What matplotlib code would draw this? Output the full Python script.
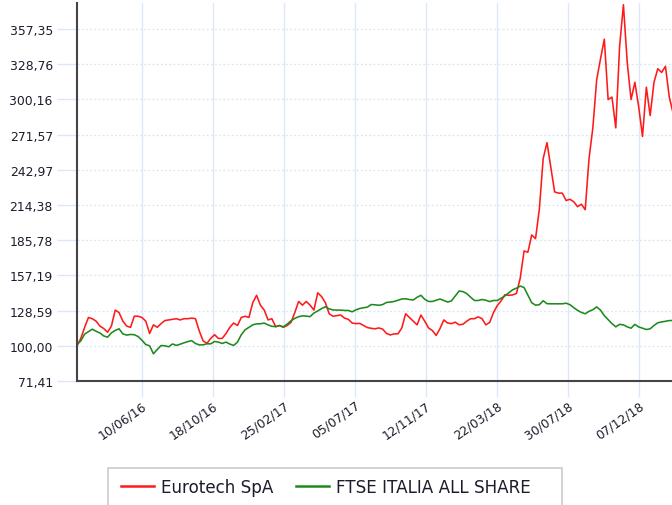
import matplotlib
matplotlib.use("Agg")
import matplotlib.pyplot as plt
from matplotlib.patches import Rectangle
import pandas as pd

start_date = "2016-02-12"
end_date = "2019-02-06"

eurotech = [
    100, 106, 115, 123, 122, 120, 116, 114, 111, 116,
    129, 127, 120, 116, 115, 124, 124, 123, 120, 110,
    117, 115, 118, 120.5, 121, 121.5, 122, 121, 122, 122,
    122.5, 122, 112, 104, 102, 106, 109, 106, 106, 110,
    115, 118.5, 116.5, 123, 124, 123, 135, 141, 133, 129,
    121, 122, 115.5, 116.5, 115, 116.5, 119, 127, 136, 133,
    136, 133, 129, 143, 140, 135, 126, 124, 124.5, 125,
    122.5, 121.5, 118.5, 118, 118.2, 116.5, 114.8, 114.2, 113.8, 114.5,
    113.5, 110, 108.8, 109.7, 109.7, 114.5, 126, 123, 120, 117,
    125, 120, 114.5, 112.4, 108.4, 114, 121, 118.5, 118, 119.2,
    117, 117.5, 120, 122, 122, 123.5, 122, 117, 119, 127,
    132.7, 136.5, 141.5, 141, 141.3, 142.5, 155, 177, 176, 190,
    187, 211, 252, 265, 245, 225, 224, 224, 218, 219,
    217, 213, 215, 210.5, 252, 277, 316, 333, 349, 300,
    302, 277, 343, 377, 330, 300, 314, 294, 270, 310,
    287, 314, 325, 322, 327, 302, 289,
]

ftse = [
    101, 104, 109.5, 111.5, 113.5, 111.8, 110.4, 108, 107, 110.5,
    112.5, 113.8, 109.7, 108.7, 109.2, 109, 107.5, 104.5, 101, 100,
    93.5, 97, 100.2, 100, 99.2, 101.5, 100.3, 101.3, 102.4, 103.4,
    104.2, 101.9, 100.7, 100.8, 101.6, 101.6, 103.5, 103, 101.9, 103,
    101.4, 100.3, 103, 109, 113, 115, 117, 117.8, 117.9, 118.4,
    117, 115.8, 115.6, 116.4, 115.4, 117.6, 120.3, 122.3, 123.6, 124.3,
    124.1, 123.7, 126.6, 128.3, 130.2, 131.7, 130, 129.1, 129, 129,
    128.7, 128.7, 127.6, 129.2, 130.3, 130.9, 131.4, 133.5, 133.3, 132.9,
    133.5, 135.2, 135.5, 136, 137, 138, 138.2, 137.6, 137.2, 139.4,
    141, 137.8, 136, 136, 137, 138, 136.8, 135.5, 136.5, 140.5,
    144.5, 144, 142.4, 139.5, 136.8, 136.8, 137.6, 137, 135.9, 136.8,
    136.8, 138.6, 140.6, 143, 145.5, 146.8, 148.5, 147.3, 141.2, 135,
    133, 133.4, 136.6, 134.2, 134.1, 134.1, 134.1, 134.1, 134.6, 133.4,
    131, 128.8, 127.1, 126, 128, 129.3, 131.6, 129, 124.5, 121.3,
    118, 115.4, 117.4, 117, 115.4, 114.3, 117.4, 115.3, 114.3, 113.2,
    113.8, 116.5, 118.7, 119.4, 119.9, 120.5, 120.5,
]

y_ticks = [71.41, 100.00, 128.59, 157.19, 185.78, 214.38, 242.97,
           271.57, 300.16, 328.76, 357.35]
x_tick_labels = ["10/06/16", "18/10/16", "25/02/17", "05/07/17",
                 "12/11/17", "22/03/18", "30/07/18", "07/12/18"]
series_names = ["Eurotech SpA", "FTSE ITALIA ALL SHARE"]

dates = pd.date_range(start_date, periods=len(eurotech), freq="7D")
x_ticks = pd.to_datetime(x_tick_labels, format="%d/%m/%y")

W, H = 672, 506
fig = plt.figure(figsize=(W / 100, H / 100), dpi=100)
ax = fig.add_axes([77 / W, 1 - 382 / H, 1 - 77 / W, (382 - 4) / H])

grid_c = "#dde8f6"
ax.plot(dates, eurotech, color="#ff1a1a", lw=1.15, label=series_names[0], zorder=3)
ax.plot(dates, ftse, color="#1e8a1e", lw=1.15, label=series_names[1], zorder=3)

ax.set_xlim(pd.Timestamp(start_date), pd.Timestamp(end_date))
ax.set_ylim(71.41, 378.4)

ax.set_yticks(y_ticks)
ax.set_yticklabels([f"{v:.2f}".replace(".", ",") for v in y_ticks])
ax.set_xticks(x_ticks)
ax.set_xticklabels(x_tick_labels)

ax.grid(axis="y", color=grid_c, linestyle=(0, (1.5, 1.5)), lw=1.0, zorder=0)
ax.grid(axis="x", color=grid_c, linestyle="-", lw=1.0, zorder=0)

ax.tick_params(axis="y", length=14.4, width=1.0, color=grid_c, pad=3,
               labelsize=8.9, labelcolor="#1c1c2c")
ax.tick_params(axis="x", length=11.5, width=1.0, color=grid_c, pad=1,
               labelsize=8.9, labelcolor="#1c1c2c")
for lbl in ax.get_xticklabels():
    lbl.set_rotation(35)
    lbl.set_ha("right")
    lbl.set_va("top")
    lbl.set_rotation_mode("anchor")

for s in ["top", "right"]:
    ax.spines[s].set_visible(False)
for s in ["left", "bottom"]:
    ax.spines[s].set_color("#444444")
    ax.spines[s].set_linewidth(1.5)
    ax.spines[s].set_zorder(4)

# legend box
rect = Rectangle((108 / W, -0.05), (562 - 108) / W, (1 - 469 / H) + 0.05,
                 transform=fig.transFigure, facecolor="white",
                 edgecolor="#cccccc", lw=1.2, clip_on=False)
fig.patches.append(rect)
handles, labels = ax.get_legend_handles_labels()
leg = fig.legend(handles, labels, loc="center left",
                 bbox_to_anchor=(120.7 / W, 1 - 488 / H), ncol=2,
                 frameon=False, fontsize=12.1, handlelength=2.0,
                 handletextpad=0.42, columnspacing=1.3, borderpad=0,
                 borderaxespad=0)
for line in leg.get_lines():
    line.set_linewidth(1.8)
for t in leg.get_texts():
    t.set_color("#1c1c2c")

fig.savefig("out.png", dpi=100)
